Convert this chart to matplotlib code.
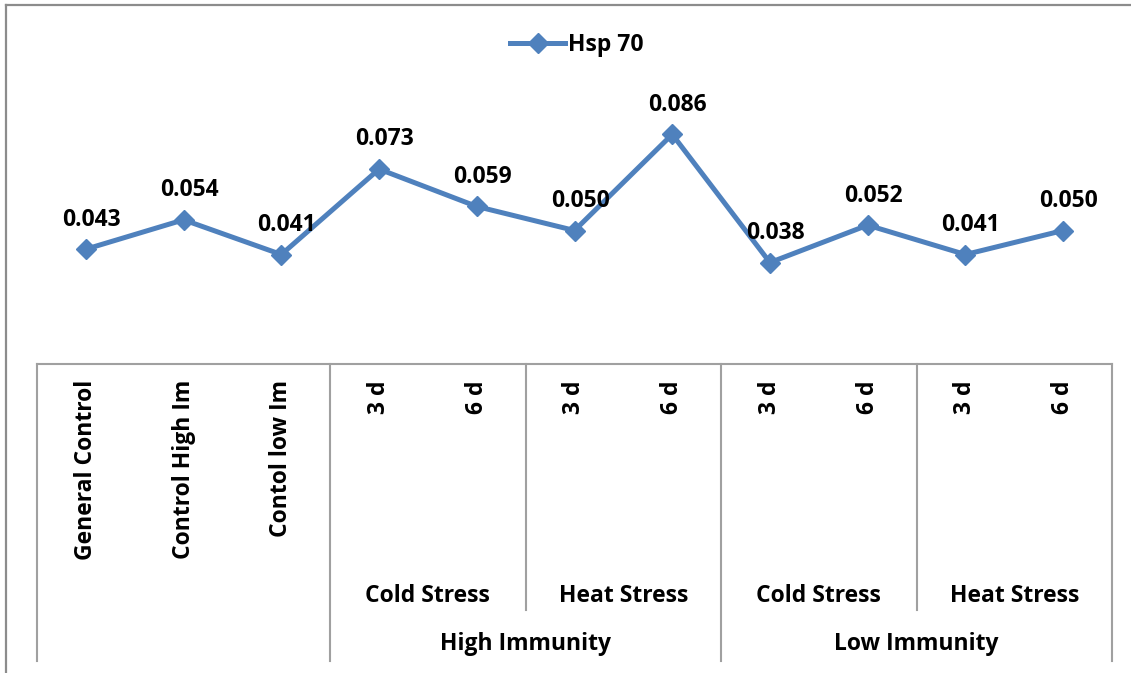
import matplotlib.pyplot as plt
import matplotlib.transforms as mtransforms
from matplotlib.lines import Line2D

# data
categories = ['General Control', 'Control High Im', 'Contol low Im',
              '3 d', '6 d', '3 d', '6 d', '3 d', '6 d', '3 d', '6 d']
hsp70 = [0.043, 0.054, 0.041, 0.073, 0.059, 0.050, 0.086, 0.038, 0.052, 0.041, 0.050]

# second tier: (label, first index, last index)
stress_groups = [('Cold Stress', 3, 4), ('Heat Stress', 5, 6),
                 ('Cold Stress', 7, 8), ('Heat Stress', 9, 10)]
# third tier
immunity_groups = [('High Immunity', 3, 6), ('Low Immunity', 7, 10)]

W, H = 1131, 673
blue = '#4F81BD'
grey = '#A0A0A0'
plt.rcParams['font.family'] = ['Open Sans', 'DejaVu Sans']
FS = 16.5

fig = plt.figure(figsize=(W / 100, H / 100), dpi=100)

def fy(py):
    return 1 - py / H

# outer chart border (only top and left visible)
fig.add_artist(Line2D([6 / W, 1], [fy(5), fy(5)], color='#8C8C8C', lw=1.6))
fig.add_artist(Line2D([6 / W, 6 / W], [fy(5), 0], color='#8C8C8C', lw=1.6))

ax = fig.add_axes([37 / W, fy(364), 1075 / W, 267 / H])
x = list(range(len(categories)))
ax.plot(x, hsp70, color=blue, lw=3.6, marker='D', ms=10.5, label='Hsp 70')
ax.set_xlim(-0.5, len(categories) - 0.5)
ax.set_ylim(0, 0.1)
for s in ['top', 'left', 'right']:
    ax.spines[s].set_visible(False)
ax.spines['bottom'].set_color(grey)
ax.spines['bottom'].set_linewidth(1.5)
ax.set_xticks([])
ax.set_yticks([])
ax.patch.set_alpha(0)

for xi, v in zip(x, hsp70):
    ax.annotate(f'{v:.3f}', (xi, v), xytext=(4, 17), textcoords='offset points',
                ha='center', va='baseline', fontsize=FS, fontweight='bold')

tr = mtransforms.blended_transform_factory(ax.transData, fig.transFigure)

# category labels
for xi, lab in zip(x, categories):
    ax.text(xi, fy(380), lab, transform=tr, rotation=90, ha='center', va='top',
            fontsize=FS, fontweight='bold')

# separators
long_edges = [-0.5, 2.5, 6.5, 10.5]
short_edges = [4.5, 8.5]
for e in long_edges:
    ax.add_artist(Line2D([e, e], [fy(364), fy(661)], transform=tr, color=grey,
                         lw=1.5, clip_on=False))
for e in short_edges:
    ax.add_artist(Line2D([e, e], [fy(364), fy(610)], transform=tr, color=grey,
                         lw=1.5, clip_on=False))

for lab, a, b in stress_groups:
    ax.text((a + b) / 2, fy(602), lab, transform=tr, ha='center', va='baseline',
            fontsize=FS, fontweight='bold')
for lab, a, b in immunity_groups:
    ax.text((a + b) / 2, fy(650), lab, transform=tr, ha='center', va='baseline',
            fontsize=FS, fontweight='bold')

fig.legend(loc='center', bbox_to_anchor=(577 / W, fy(45)), frameon=False,
           handlelength=2.4, handletextpad=0.15,
           prop={'size': FS, 'weight': 'bold'})

fig.savefig('out.png', dpi=100)
